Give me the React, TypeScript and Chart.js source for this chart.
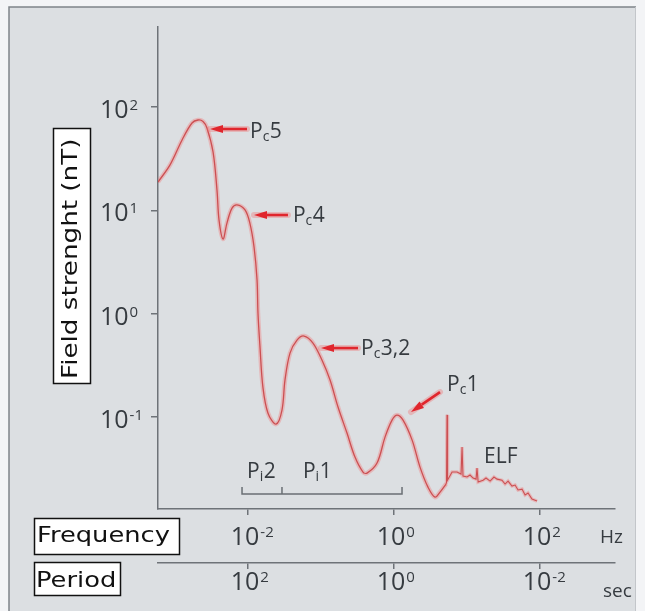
import React, { useEffect, useRef } from 'react';
import { Chart, registerables } from 'chart.js';

Chart.register(...registerables);

// ---- Data (frequency in Hz, field strength in nT) ----
const smoothFreq = [
  5.85e-4, 8.55e-4, 1.25e-3, 1.71e-3, 2.07e-3, 2.42e-3, 2.74e-3, 3.32e-3, 3.76e-3, 4.01e-3, 4.55e-3,
  5.15e-3, 6.04e-3, 7.06e-3, 9.1e-3, 1.06e-2, 1.21e-2, 1.33e-2, 1.37e-2, 1.46e-2, 1.6e-2,
  1.88e-2, 2.42e-2, 2.92e-2, 3.21e-2, 3.76e-2, 4.69e-2, 5.85e-2, 7.76e-2, 0.103, 0.133,
  0.171, 0.227, 0.292, 0.376, 0.427, 0.585, 0.753, 0.94, 1.1, 1.33,
  1.77, 2.27, 2.92, 3.65, 4.27, 5.15,
];
const smoothField = [
  18.8, 27.5, 48.0, 70.0, 74.8, 72.4, 62.7, 36.7, 15.7, 8.05, 5.28,
  7.53, 10.5, 11.3, 10.1, 7.53, 4.42, 2.12, 1.01, 0.475, 0.195,
  0.109, 0.0855, 0.117, 0.228, 0.416, 0.556, 0.608, 0.52, 0.356, 0.228,
  0.125, 0.07, 0.041, 0.0294, 0.0287, 0.0359, 0.064, 0.0935, 0.1045, 0.0935,
  0.0598, 0.0328, 0.021, 0.0168, 0.0188, 0.0225,
];
const elfFreq = [
  5.15, 5.24, 5.32, 5.41, 6.24, 7.29, 8.28, 8.55, 8.81, 10.0,
  11.0, 12.1, 13.3, 13.7, 14.2, 16.6, 18.2, 20.7, 23.4, 25.8,
  30.1, 33.2, 36.5, 41.3, 45.5, 50.0, 56.7, 62.4, 68.5, 77.6, 91.0,
];
const elfField = [
  0.0225, 0.0235, 0.105, 0.0245, 0.0294, 0.0294, 0.0281, 0.0513, 0.0269, 0.0263,
  0.0275, 0.0257, 0.0251, 0.0321, 0.0235, 0.0245, 0.0257, 0.024, 0.0263, 0.0251,
  0.0245, 0.0225, 0.024, 0.0215, 0.022, 0.0197, 0.0201, 0.0176, 0.0184, 0.0161, 0.0154,
];

const fieldTicks = [0.1, 1, 10, 100];
const fieldTickExp = ['-1', '0', '1', '2'];
const freqTicks = [0.01, 1, 100];
const freqTickExp = ['-2', '0', '2'];
const periodTicks = [100, 1, 0.01];
const periodTickExp = ['2', '0', '-2'];

const X_MIN = 5.85e-4;
const X_MAX = 1064;
const Y_MIN = 0.0129;
const Y_MAX = 594;

// Annotation anchors (data coords of label text start)
const pcNames = ['5', '4', '3,2', '1'];
const pcFreq = [1.065e-2, 4.13e-2, 0.353, 5.32];
const pcField = [50.1, 7.71, 0.398, 0.1785];
const piNames = ['2', '1'];
const piFreq = [9.69e-3, 5.66e-2];
const piField = [0.0257, 0.0257];
const piBracketFreq = [8.28e-3, 2.92e-2, 1.287];
const piBracketField = 0.018;
const elfLabelFreq = 17.1;
const elfLabelField = 0.0359;

const TICK_FONT = '"Open Sans", "Noto Sans", sans-serif';
const BOX_FONT = '"DejaVu Sans", Verdana, sans-serif';
const TEXT_COLOR = '#363b40';
const AXIS_COLOR = '#6e7378';

function drawPow(ctx: CanvasRenderingContext2D, exp: string, x: number, baseline: number, centered: boolean) {
  ctx.font = `25px ${TICK_FONT}`;
  ctx.textAlign = 'left';
  ctx.textBaseline = 'alphabetic';
  const w = ctx.measureText('10').width;
  const x0 = centered ? x - w / 2 : x;
  ctx.fillText('10', x0, baseline);
  ctx.font = `15px ${TICK_FONT}`;
  ctx.fillText(exp, x0 + w + 1, baseline - 8);
}

function drawSub(ctx: CanvasRenderingContext2D, sub: string, rest: string, x: number, baseline: number) {
  ctx.font = `21px ${TICK_FONT}`;
  ctx.textAlign = 'left';
  ctx.textBaseline = 'alphabetic';
  ctx.fillText('P', x, baseline);
  const w1 = ctx.measureText('P').width;
  ctx.font = `14px ${TICK_FONT}`;
  ctx.fillText(sub, x + w1, baseline + 3);
  const w2 = ctx.measureText(sub).width;
  ctx.font = `21px ${TICK_FONT}`;
  ctx.fillText(rest, x + w1 + w2 + 0.5, baseline);
}

function drawArrow(ctx: CanvasRenderingContext2D, tx: number, ty: number, hx: number, hy: number) {
  const ang = Math.atan2(hy - ty, hx - tx);
  const headLen = 13;
  const headW = 4;
  const bx = hx - Math.cos(ang) * headLen;
  const by = hy - Math.sin(ang) * headLen;
  ctx.save();
  ctx.strokeStyle = 'rgba(240,110,110,0.35)';
  ctx.lineWidth = 6;
  ctx.lineCap = 'round';
  ctx.beginPath();
  ctx.moveTo(tx, ty);
  ctx.lineTo(hx, hy);
  ctx.stroke();
  ctx.strokeStyle = '#e0262d';
  ctx.lineWidth = 2.6;
  ctx.lineCap = 'butt';
  ctx.beginPath();
  ctx.moveTo(tx, ty);
  ctx.lineTo(bx, by);
  ctx.stroke();
  ctx.fillStyle = '#e0262d';
  ctx.beginPath();
  ctx.moveTo(hx, hy);
  ctx.lineTo(bx - Math.sin(ang) * headW, by + Math.cos(ang) * headW);
  ctx.lineTo(bx + Math.sin(ang) * headW, by - Math.cos(ang) * headW);
  ctx.closePath();
  ctx.fill();
  ctx.restore();
}

function drawBoxText(ctx: CanvasRenderingContext2D, text: string, x: number, baseline: number, stretch: number) {
  ctx.save();
  ctx.translate(x, baseline);
  ctx.scale(stretch, 1);
  ctx.font = `22px ${BOX_FONT}`;
  ctx.fillStyle = '#111';
  ctx.textAlign = 'left';
  ctx.textBaseline = 'alphabetic';
  ctx.fillText(text, 0, 0);
  ctx.restore();
}

const backgroundPlugin = {
  id: 'panelBg',
  beforeDraw(chart: any) {
    const ctx: CanvasRenderingContext2D = chart.ctx;
    ctx.save();
    ctx.fillStyle = '#f3f4f6';
    ctx.fillRect(0, 0, chart.width, chart.height);
    ctx.fillStyle = '#dcdfe2';
    ctx.fillRect(9, 7, 627, chart.height);
    ctx.strokeStyle = '#7f8489';
    ctx.lineWidth = 1.5;
    ctx.beginPath();
    ctx.moveTo(9, chart.height);
    ctx.lineTo(9, 7);
    ctx.lineTo(636, 7);
    ctx.stroke();
    ctx.strokeStyle = '#c3c6ca';
    ctx.lineWidth = 1;
    ctx.beginPath();
    ctx.moveTo(635.5, 7);
    ctx.lineTo(635.5, chart.height);
    ctx.stroke();
    ctx.restore();
  },
};

const overlayPlugin = {
  id: 'overlay',
  afterDraw(chart: any) {
    const ctx: CanvasRenderingContext2D = chart.ctx;
    const xs = chart.scales.x;
    const x2 = chart.scales.x2;
    const ys = chart.scales.y;
    ctx.save();
    ctx.fillStyle = TEXT_COLOR;

    fieldTicks.forEach((v, i) => {
      const py = ys.getPixelForValue(v);
      drawPow(ctx, fieldTickExp[i], ys.right - 58, py + 11, false);
    });
    freqTicks.forEach((v, i) => {
      const px = xs.getPixelForValue(v);
      drawPow(ctx, freqTickExp[i], px - 3, xs.top + 36, true);
    });
    periodTicks.forEach((v, i) => {
      const px = x2.getPixelForValue(v);
      drawPow(ctx, periodTickExp[i], px - 3, x2.top + 27, true);
    });
    ctx.font = `19px ${TICK_FONT}`;
    ctx.textAlign = 'left';
    ctx.fillText('Hz', xs.right - 15, xs.top + 34);
    ctx.fillText('sec', x2.right - 12, x2.top + 34);

    const arrows = [
      [-3, -9, -40, -9],
      [-5, -7, -39, -7],
      [-3, -7, -40, -7],
      [-7, 1, -36, 21],
    ];
    pcNames.forEach((name, i) => {
      const px = xs.getPixelForValue(pcFreq[i]);
      const py = ys.getPixelForValue(pcField[i]);
      const a = arrows[i];
      drawArrow(ctx, px + a[0], py + a[1], px + a[2], py + a[3]);
      ctx.fillStyle = TEXT_COLOR;
      drawSub(ctx, 'c', name, px, py);
    });

    piNames.forEach((name, i) => {
      const px = xs.getPixelForValue(piFreq[i]);
      const py = ys.getPixelForValue(piField[i]);
      ctx.fillStyle = TEXT_COLOR;
      drawSub(ctx, 'i', name, px, py);
    });

    const by = ys.getPixelForValue(piBracketField);
    const bxs = piBracketFreq.map((f) => xs.getPixelForValue(f));
    ctx.strokeStyle = '#6a6f74';
    ctx.lineWidth = 1.5;
    ctx.beginPath();
    ctx.moveTo(bxs[0], by);
    ctx.lineTo(bxs[2], by);
    bxs.forEach((bx) => {
      ctx.moveTo(bx, by + 0.75);
      ctx.lineTo(bx, by - 7);
    });
    ctx.stroke();

    ctx.fillStyle = TEXT_COLOR;
    ctx.font = `21px ${TICK_FONT}`;
    ctx.fillText('ELF', xs.getPixelForValue(elfLabelFreq), ys.getPixelForValue(elfLabelField));

    ctx.lineWidth = 1.5;
    ctx.strokeStyle = '#111';
    ctx.fillStyle = '#ffffff';
    ctx.fillRect(53.5, 128.5, 37, 255);
    ctx.strokeRect(53.5, 128.5, 37, 255);
    ctx.save();
    ctx.translate(77, 379);
    ctx.rotate(-Math.PI / 2);
    ctx.scale(1.19, 1);
    ctx.font = `22px ${BOX_FONT}`;
    ctx.fillStyle = '#111';
    ctx.textAlign = 'left';
    ctx.fillText('Field strenght (nT)', 0, 0);
    ctx.restore();

    ctx.fillStyle = '#ffffff';
    ctx.fillRect(34.5, 518.5, 145, 36);
    ctx.strokeRect(34.5, 518.5, 145, 36);
    drawBoxText(ctx, 'Frequency', 37, 542, 1.17);

    ctx.fillStyle = '#ffffff';
    ctx.fillRect(34.5, 562.5, 86, 33);
    ctx.strokeRect(34.5, 562.5, 86, 33);
    drawBoxText(ctx, 'Period', 36, 587, 1.17);

    ctx.restore();
  },
};

function axisOpts(ticks: number[], extra: any) {
  return {
    type: 'logarithmic',
    bounds: 'data',
    afterBuildTicks: (s: any) => {
      s.ticks = ticks.map((v) => ({ value: v }));
    },
    ticks: { display: false },
    grid: {
      drawOnChartArea: false,
      drawTicks: true,
      tickLength: 6,
      color: AXIS_COLOR,
      lineWidth: 1.5,
    },
    border: { display: true, color: AXIS_COLOR, width: 1.5 },
    ...extra,
  };
}

export default function App() {
  const ref = useRef<HTMLCanvasElement | null>(null);

  useEffect(() => {
    if (!ref.current) return;
    const smoothPts = smoothFreq.map((f, i) => ({ x: f, y: smoothField[i] }));
    const elfPts = elfFreq.map((f, i) => ({ x: f, y: elfField[i] }));
    const glow = 'rgba(242,120,120,0.38)';
    const core = '#b5363a';
    const chart = new Chart(ref.current, {
      type: 'line',
      data: {
        datasets: [
          { data: smoothPts, borderColor: glow, borderWidth: 4.5, tension: 0.35, pointRadius: 0 },
          { data: elfPts, borderColor: glow, borderWidth: 3.5, tension: 0, pointRadius: 0 },
          { data: smoothPts, borderColor: core, borderWidth: 1.3, tension: 0.35, pointRadius: 0 },
          { data: elfPts, borderColor: core, borderWidth: 1.1, tension: 0, pointRadius: 0 },
        ],
      } as any,
      options: {
        animation: false,
        responsive: false,
        events: [],
        layout: { padding: { left: 0, right: 30, top: 27, bottom: 0 } },
        plugins: { legend: { display: false }, tooltip: { enabled: false } },
        scales: {
          x: axisOpts(freqTicks, {
            position: 'bottom',
            weight: 0,
            min: X_MIN,
            max: X_MAX,
            afterFit: (s: any) => {
              s.height = 54;
            },
          }),
          x2: axisOpts(periodTicks, {
            axis: 'x',
            position: 'bottom',
            weight: 1,
            reverse: true,
            min: 1 / X_MAX,
            max: 1 / X_MIN,
            afterFit: (s: any) => {
              s.height = 48;
            },
          }),
          y: axisOpts(fieldTicks, {
            position: 'left',
            min: Y_MIN,
            max: Y_MAX,
            grid: {
              drawOnChartArea: false,
              drawTicks: true,
              tickLength: 7,
              color: AXIS_COLOR,
              lineWidth: 1.5,
            },
            afterFit: (s: any) => {
              s.width = 158;
            },
          }),
        },
      } as any,
      plugins: [backgroundPlugin, overlayPlugin],
    });
    let alive = true;
    if ((document as any).fonts && (document as any).fonts.load) {
      Promise.all([
        (document as any).fonts.load(`25px "Open Sans"`),
        (document as any).fonts.load(`22px "DejaVu Sans"`),
      ])
        .then(() => {
          if (alive) chart.draw();
        })
        .catch(() => {});
    }
    return () => {
      alive = false;
      chart.destroy();
    };
  }, []);

  return (
    <div style={{ position: 'absolute', left: 0, top: 0, width: 645, height: 611 }}>
      <canvas ref={ref} width={645} height={611} style={{ display: 'block', width: 645, height: 611 }} />
    </div>
  );
}
